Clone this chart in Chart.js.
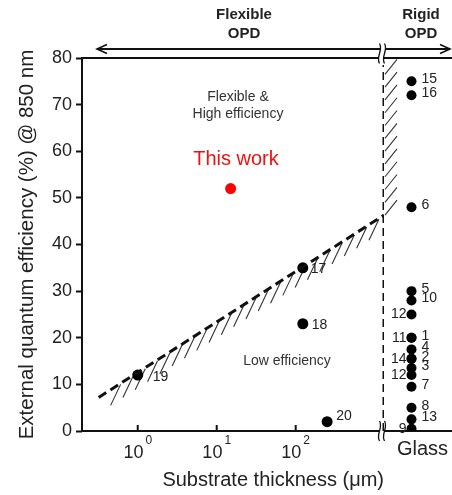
<!DOCTYPE html>
<html><head><meta charset="utf-8">
<script src="https://cdn.jsdelivr.net/npm/chart.js@4.4.1/dist/chart.umd.min.js"></script>
<style>html,body{margin:0;padding:0;background:#fff}#wrap{width:452px;height:495px}</style>
</head><body><div id="wrap"><canvas id="c" width="452" height="495"></canvas></div>
<script>
// ---------- data ----------
const yTicks = [0, 10, 20, 30, 40, 50, 60, 70, 80];
const xTickValues = [1, 10, 100];
const glassCategory = ['Glass'];
const xRange = [0.197, 1312];
const yRange = [0, 80];

const flexThickness = [1, 123, 123, 250];
const flexEQE = [12, 35, 23, 2];
const flexRef = ['19', '17', '18', '20'];

const thisWorkThickness = [15];
const thisWorkEQE = [52];

const glassEQE = [75, 72, 48, 30, 28, 25, 20, 20, 17.5, 15.5, 15.5, 13.5, 12, 9.5, 5, 2.5, 0.5];
const glassRef = ['15', '16', '6', '5', '10', '12', '1', '11', '4', '2', '14', '3', '12', '7', '8', '13', '9'];

const boundaryThickness = [0.32, 1312];
const boundaryEQE = [7.2, 46.3];
const wallThickness = [1312, 1312];
const wallEQE = [0, 78.5];

// ---------- styling ----------
const FONT = "'Liberation Sans', Arial, Helvetica, sans-serif";
const INK = '#111';
Chart.defaults.font.family = FONT;
const refOffset = { '19': [15, 2], '17': [8, 1], '18': [9, 1], '20': [9, -6] };
const leftRefs = ['12', '11', '14', '9'];

function pts(xs, ys) { return xs.map((x, i) => ({ x: x, y: ys[i] })); }

function squiggle(ctx, x, yc, h) {
  ctx.save();
  ctx.fillStyle = '#fff';
  ctx.beginPath();
  ctx.moveTo(x - 2.5, yc - h);
  ctx.bezierCurveTo(x + 1.5, yc - h / 3, x - 6.5, yc + h / 3, x - 2.5, yc + h);
  ctx.lineTo(x + 2.5, yc + h);
  ctx.bezierCurveTo(x - 1.5, yc + h / 3, x + 6.5, yc - h / 3, x + 2.5, yc - h);
  ctx.closePath();
  ctx.fill();
  ctx.lineWidth = 1.3;
  ctx.strokeStyle = INK;
  for (const dx of [-2.5, 2.5]) {
    ctx.beginPath();
    ctx.moveTo(x + dx, yc - h);
    ctx.bezierCurveTo(x + dx + 4, yc - h / 3, x + dx - 4, yc + h / 3, x + dx, yc + h);
    ctx.stroke();
  }
  ctx.restore();
}

const decor = {
  id: 'decor',
  beforeDatasetsDraw(chart) {
    const ctx = chart.ctx, ca = chart.chartArea, xs = chart.scales.x;
    ctx.save();
    ctx.strokeStyle = INK; ctx.lineWidth = 2;
    // frame
    ctx.beginPath();
    ctx.moveTo(chart.width, ca.top); ctx.lineTo(ca.left, ca.top);
    ctx.lineTo(ca.left, ca.bottom); ctx.lineTo(chart.width, ca.bottom);
    ctx.stroke();
    // inner x ticks
    xTickValues.forEach(v => {
      const px = xs.getPixelForValue(v);
      ctx.beginPath(); ctx.moveTo(px, ca.bottom); ctx.lineTo(px, ca.bottom - 6); ctx.stroke();
    });
    // arrow line
    const ay = ca.top - 9, ax0 = ca.left + 15, ax1 = chart.width - 2;
    ctx.beginPath(); ctx.moveTo(ax0, ay); ctx.lineTo(ax1, ay); ctx.stroke();
    ctx.lineWidth = 1.6;
    ctx.beginPath(); ctx.moveTo(ax0 + 10, ay - 4.5); ctx.lineTo(ax0, ay); ctx.lineTo(ax0 + 10, ay + 4.5); ctx.stroke();
    ctx.beginPath(); ctx.moveTo(ax1 - 10, ay - 4.5); ctx.lineTo(ax1, ay); ctx.lineTo(ax1 - 10, ay + 4.5); ctx.stroke();
    // breaks
    const bx = xs.right - 2;
    squiggle(ctx, bx, ca.top - 4.5, 10);
    squiggle(ctx, bx, ca.bottom, 10);
    // hatching
    const bm = chart.getDatasetMeta(0).data;
    const p0 = bm[0], p1 = bm[1];
    const slope = (p1.y - p0.y) / (p1.x - p0.x);
    ctx.lineWidth = 1.1; ctx.strokeStyle = '#333';
    for (let x = p0.x + 22; x < p1.x - 3; x += 12.3) {
      const y = p0.y + slope * (x - p0.x);
      ctx.beginPath(); ctx.moveTo(x, y + 1); ctx.lineTo(x - 10, y + 22); ctx.stroke();
    }
    const wm = chart.getDatasetMeta(1).data;
    const wx = wm[0].x, wTop = wm[1].y;
    for (let y = p1.y; y > wTop + 8; y -= 12.8) {
      ctx.beginPath(); ctx.moveTo(wx + 1, y); ctx.lineTo(wx + 13, y - 15); ctx.stroke();
    }
    ctx.restore();
  },
  afterDatasetsDraw(chart) {
    const ctx = chart.ctx, ca = chart.chartArea, xs = chart.scales.x;
    ctx.save();
    ctx.fillStyle = '#222';
    // x tick labels with exponent
    xTickValues.forEach(v => {
      const px = xs.getPixelForValue(v);
      const exp = String(Math.round(Math.log10(v)));
      ctx.font = '18px ' + FONT; const wb = ctx.measureText('10').width;
      ctx.font = '12px ' + FONT; const we = ctx.measureText(exp).width;
      const x0 = px - (wb + 2 + we) / 2;
      ctx.textAlign = 'left'; ctx.textBaseline = 'alphabetic';
      ctx.font = '18px ' + FONT; ctx.fillText('10', x0, ca.bottom + 27);
      ctx.font = '12px ' + FONT; ctx.fillText(exp, x0 + wb + 2, ca.bottom + 13);
    });
    // header
    ctx.textAlign = 'center'; ctx.textBaseline = 'middle';
    ctx.font = 'bold 15px ' + FONT;
    ctx.fillText('Flexible', 244, 15); ctx.fillText('OPD', 244, 34);
    ctx.fillText('Rigid', 421, 15); ctx.fillText('OPD', 421, 34);
    // annotations
    ctx.fillStyle = '#333';
    ctx.font = '14px ' + FONT;
    ctx.fillText('Flexible &', 238, 97);
    ctx.fillText('High efficiency', 238, 114);
    ctx.fillText('Low efficiency', 287, 361);
    ctx.fillStyle = '#ee1111';
    ctx.font = '20px ' + FONT;
    ctx.fillText('This work', 236, 159);
    // reference numbers
    ctx.fillStyle = '#222';
    ctx.font = '14px ' + FONT;
    chart.getDatasetMeta(2).data.forEach((el, i) => {
      const r = flexRef[i], o = refOffset[r] || [9, 0];
      ctx.textAlign = 'left';
      ctx.fillText(r, el.x + o[0], el.y + o[1]);
    });
    chart.getDatasetMeta(4).data.forEach((el, i) => {
      const r = glassRef[i];
      if (leftRefs.includes(r)) { ctx.textAlign = 'right'; ctx.fillText(r, el.x - 5, el.y); }
      else { ctx.textAlign = 'left'; ctx.fillText(r, el.x + 10, el.y - 2); }
    });
    ctx.restore();
  }
};

function noPad(s) { s.paddingLeft = 0; s.paddingRight = 0; }

new Chart(document.getElementById('c'), {
  type: 'scatter',
  data: {
    datasets: [
      { data: pts(boundaryThickness, boundaryEQE), xAxisID: 'x', showLine: true, borderColor: INK, borderWidth: 3, borderDash: [9, 5], pointRadius: 0, fill: false },
      { data: pts(wallThickness, wallEQE), xAxisID: 'x', showLine: true, borderColor: INK, borderWidth: 3, borderDash: [8, 5], pointRadius: 0, fill: false },
      { data: pts(flexThickness, flexEQE), xAxisID: 'x', pointRadius: 5.5, backgroundColor: '#000', borderWidth: 0 },
      { data: pts(thisWorkThickness, thisWorkEQE), xAxisID: 'x', pointRadius: 5.5, backgroundColor: '#ff0000', borderWidth: 0 },
      { data: glassEQE.map(v => ({ x: glassCategory[0], y: v })), xAxisID: 'xg', pointRadius: 5, backgroundColor: '#000', borderWidth: 0 }
    ]
  },
  options: {
    responsive: false, animation: false, devicePixelRatio: 1,
    layout: { padding: { top: 58, left: 0, right: 13, bottom: 0 }, autoPadding: false },
    plugins: { legend: { display: false }, tooltip: { enabled: false } },
    scales: {
      x: {
        type: 'logarithmic', position: 'bottom', stack: 'bx', stackWeight: 302,
        min: xRange[0], max: xRange[1],
        afterBuildTicks: s => { s.ticks = xTickValues.map(v => ({ value: v })); },
        ticks: { display: false },
        grid: { display: false, drawTicks: false },
        border: { display: false },
        title: { display: true, text: 'Substrate thickness (μm)', align: 'end', color: '#222', font: { size: 20 }, padding: { top: 0, bottom: 3 } },
        afterFit: s => { s.height = 64; noPad(s); }
      },
      xg: {
        type: 'category', labels: glassCategory, position: 'bottom', stack: 'bx', stackWeight: 55, offset: true,
        grid: { display: false, drawTicks: false },
        border: { display: false },
        ticks: { color: '#222', font: { size: 20 }, padding: 6, labelOffset: 11 },
        afterFit: s => { s.height = 64; noPad(s); }
      },
      y: {
        type: 'linear', min: yRange[0], max: yRange[1],
        afterBuildTicks: s => { s.ticks = yTicks.map(v => ({ value: v })); },
        ticks: { color: '#222', font: { size: 18 }, padding: 4 },
        grid: { drawOnChartArea: false, drawTicks: true, tickLength: 6, tickWidth: 2, tickColor: INK },
        border: { display: false },
        title: { display: true, text: 'External quantum efficiency (%) @ 850 nm', color: '#222', font: { size: 20.5 }, padding: { top: 15, bottom: 0 } },
        afterFit: s => { s.width = 82; s.paddingTop = 0; s.paddingBottom = 0; }
      }
    }
  },
  plugins: [decor]
});
</script>
</body></html>
